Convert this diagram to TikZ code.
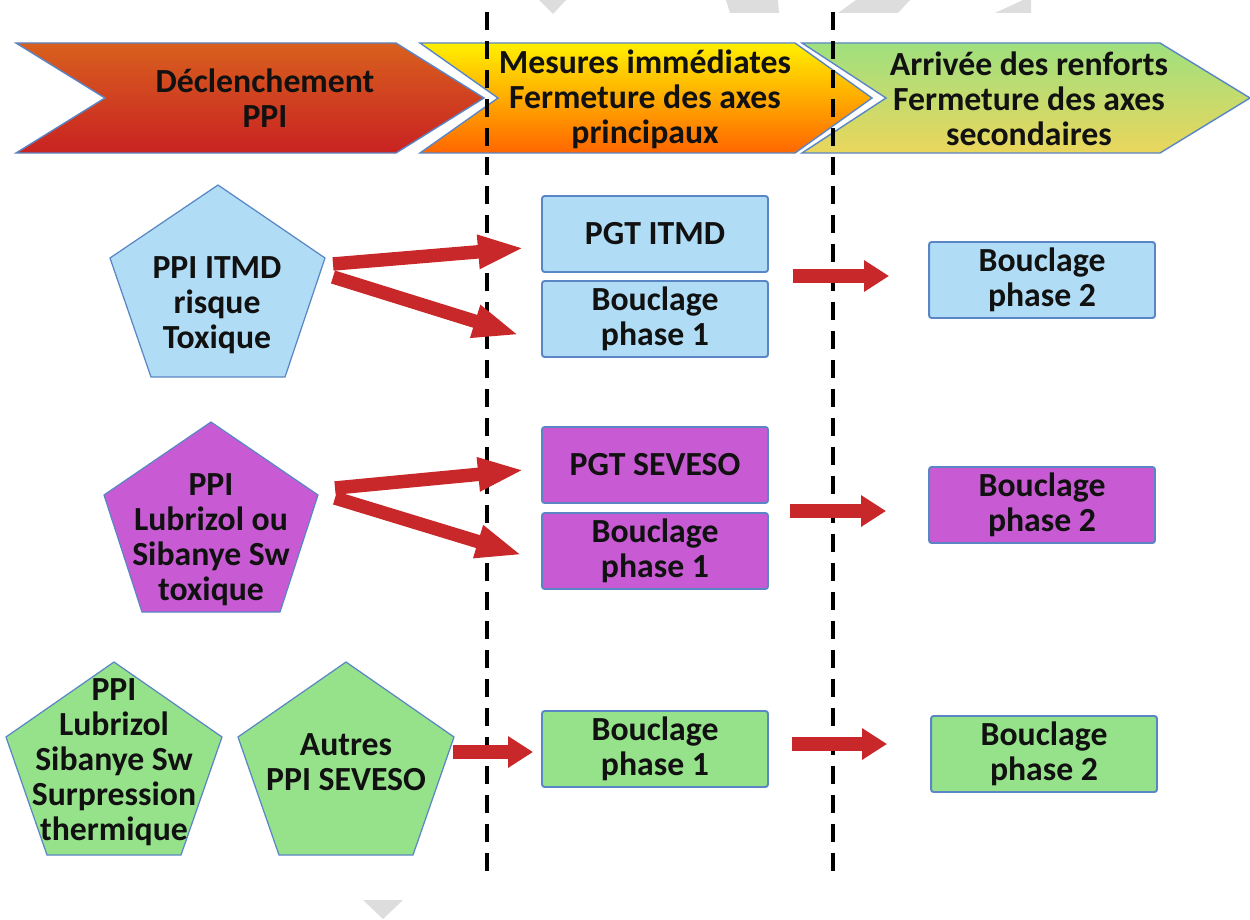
\documentclass[tikz,border=0pt]{standalone}
\usepackage{fontspec}
\setmainfont{Carlito}
\usetikzlibrary{arrows.meta,calc}
\definecolor{edgeblue}{HTML}{5A86C5}
\definecolor{lblue}{HTML}{B0DDF5}
\definecolor{lpurple}{HTML}{C85BD3}
\definecolor{lgreen}{HTML}{96E28B}
\definecolor{arrowred}{HTML}{C8282A}
\definecolor{wmgrey}{HTML}{DDDDDD}
\definecolor{txtblack}{HTML}{111111}
\definecolor{redtop}{HTML}{D8601E}
\definecolor{redbot}{HTML}{C92222}
\definecolor{ortop}{HTML}{FFF000}
\definecolor{ormid}{HTML}{FFAA00}
\definecolor{orbot}{HTML}{FF6600}
\definecolor{grtop}{HTML}{9FE07F}
\definecolor{grmid}{HTML}{C6DC70}
\definecolor{grbot}{HTML}{EAD65C}
\tikzset{
  txt/.style={font=\fontsize{19.2}{19.9}\selectfont\bfseries, text=txtblack, align=center, inner sep=0pt},
  chev/.style={draw=edgeblue, line width=0.8pt},
  pent/.style={draw=edgeblue, line width=0.7pt},
  boxnode/.style={txt, draw=edgeblue, line width=1.1pt, rounded corners=1.5pt,
    minimum width=4.52cm, minimum height=1.52cm},
  fat/.style={draw=arrowred, line width=0.27cm, -{Triangle[width=0.6cm,length=0.5cm]}},
  fatlong/.style={draw=arrowred, line width=0.27cm, -{Triangle[width=0.62cm,length=0.92cm]}},
  divider/.style={draw=black, line width=2pt, dash pattern=on 0.36cm off 0.22cm},
  watermark/.style={fill=wmgrey, draw=none},
}
\begin{document}
\begin{tikzpicture}[x=0.02cm,y=-0.02cm]
\useasboundingbox (0,0) rectangle (1250,919);

% watermark fragments
\path[watermark] (539,0) -- (566,0) -- (553,14) -- cycle;
\path[watermark] (726,0) -- (778,0) -- (779,13) -- (730,13) -- cycle;
\path[watermark] (856,0) -- (910,0) -- (898,13) -- (838,13) -- cycle;
\path[watermark] (1023,0) -- (1031,0) -- (1031,13) -- (995,13) -- cycle;
\path[watermark] (363,900) -- (403,900) -- (383,919) -- cycle;

% header chevrons
\path[chev, top color=redtop, bottom color=redbot]
  (16,43) -- (396,43) -- (484,98) -- (396,153) -- (16,153) -- (105,98) -- cycle;
\path[chev, top color=ortop, middle color=ormid, bottom color=orbot]
  (420,43) -- (795,43) -- (872,98) -- (795,153) -- (420,153) -- (498,98) -- cycle;
\path[chev, top color=grtop, middle color=grmid, bottom color=grbot]
  (802,43) -- (1160,43) -- (1250,98) -- (1160,153) -- (802,153) -- (886,98) -- cycle;
\node[txt] (h1) at (265,98) {Déclenchement\\PPI};
\node[txt] (h2) at (645,99) {Mesures immédiates\\Fermeture des axes\\principaux};
\node[txt] (h3) at (1029,99) {Arrivée des renforts\\Fermeture des axes\\secondaires};

% dashed dividers
\coordinate (d1t) at (487,12);
\coordinate (d1b) at (487,880);
\coordinate (d2t) at (833,12);
\coordinate (d2b) at (833,878);
\draw[divider] (d1t) -- (d1b);
\draw[divider] (d2t) -- (d2b);

% row 1
\filldraw[pent, fill=lblue] (218,185) -- (325,258) -- (285,377) -- (151,377) -- (110,258) -- cycle;
\node[txt] (p1) at (217,305) {PPI ITMD\\risque\\Toxique};
\node[boxnode, fill=lblue] (pgt1) at (655,234) {PGT ITMD};
\node[boxnode, fill=lblue] (b1a) at (655,319) {Bouclage\\phase 1};
\node[boxnode, fill=lblue] (b1b) at (1042,280) {Bouclage\\phase 2};

% row 2
\filldraw[pent, fill=lpurple] (211,422) -- (318,495) -- (280,612) -- (142,612) -- (104,495) -- cycle;
\node[txt] (p2) at (211,540) {PPI\\Lubrizol ou\\Sibanye Sw\\toxique};
\node[boxnode, fill=lpurple] (pgt2) at (655,465) {PGT SEVESO};
\node[boxnode, fill=lpurple] (b2a) at (655,551) {Bouclage\\phase 1};
\node[boxnode, fill=lpurple] (b2b) at (1042,505) {Bouclage\\phase 2};

% row 3
\filldraw[pent, fill=lgreen] (114,662) -- (222,737) -- (181,855) -- (47,855) -- (6,737) -- cycle;
\node[txt] (p3a) at (114,762) {PPI\\Lubrizol\\Sibanye Sw\\Surpression\\thermique};
\filldraw[pent, fill=lgreen] (346,662) -- (454,737) -- (413,855) -- (279,855) -- (238,737) -- cycle;
\node[txt] (p3b) at (346,762) {Autres\\PPI SEVESO};
\node[boxnode, fill=lgreen] (b3a) at (655,749) {Bouclage\\phase 1};
\node[boxnode, fill=lgreen] (b3b) at (1044,754) {Bouclage\\phase 2};

% arrow start points
\coordinate (p1u) at (333,264);
\coordinate (p1d) at (333,277);
\coordinate (p2u) at (335,488);
\coordinate (p2d) at (335,498);
\coordinate (p3o) at (453,752);
\coordinate (h1s) at (793,276);
\coordinate (h2s) at (790,511);
\coordinate (h3s) at (792,744);

% arrows
\draw[fatlong] (p1u) -- ($(pgt1.west)+(-17,14)$);
\draw[fatlong] (p1d) -- ($(b1a.west)+(-22,16)$);
\draw[fat] (h1s) -- ($(b1b.west)+(-39,-4)$);
\draw[fatlong] (p2u) -- ($(pgt2.west)+(-17,5)$);
\draw[fatlong] (p2d) -- ($(b2a.west)+(-19,4)$);
\draw[fat] (h2s) -- ($(b2b.west)+(-42,6)$);
\draw[fat] (p3o) -- ($(b3a.west)+(-8,3)$);
\draw[fat] (h3s) -- ($(b3b.west)+(-43,-10)$);
\end{tikzpicture}
\end{document}
